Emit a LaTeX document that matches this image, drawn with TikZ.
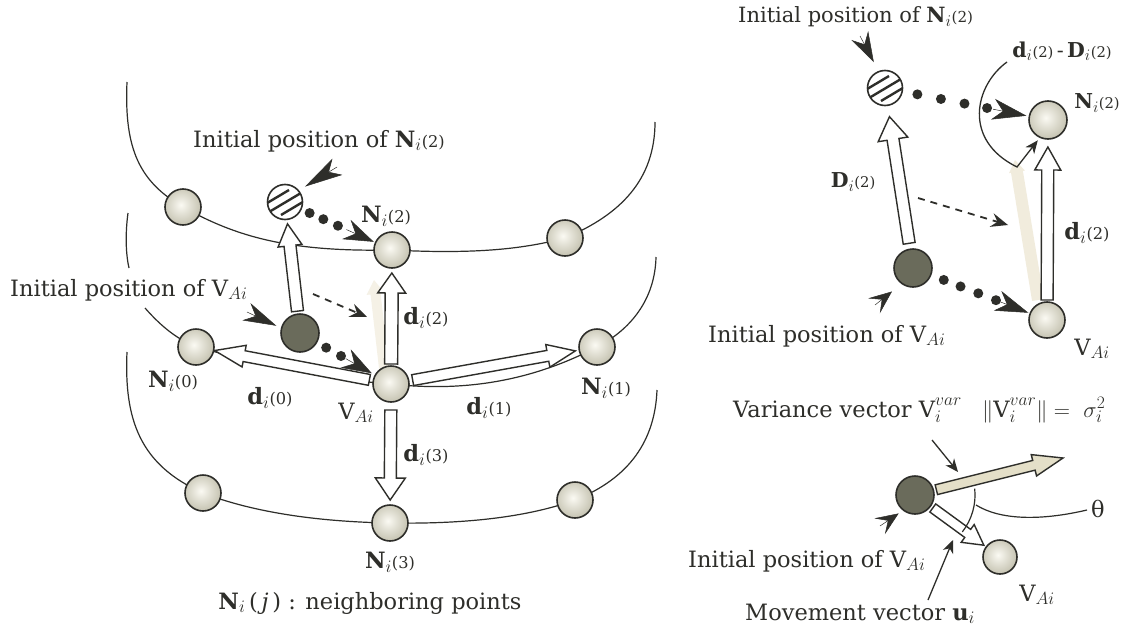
\RequirePackage{fix-cm}
\documentclass[tikz,border=0pt]{standalone}
\usepackage{fontspec}
\setmainfont{DejaVu Serif}
\renewcommand\defaultscriptratio{.78}
\usetikzlibrary{calc,arrows.meta}
\pgfdeclarelayer{bg}
\pgfsetlayers{bg,main}
\definecolor{ink}{HTML}{2E2E2A}
\definecolor{ballout}{HTML}{A9A68F}
\definecolor{ballin}{HTML}{FBFAF3}
\definecolor{darkball}{HTML}{6A6B5B}
\definecolor{beige}{HTML}{E4DFC8}
\definecolor{ghost}{HTML}{F1ECDD}
\definecolor{ghostl}{HTML}{F5F1E6}
\pgfdeclareradialshading{ballshade}{\pgfpoint{-3bp}{3bp}}{color(0bp)=(ballin); color(12bp)=(ballin!70!ballout); color(42bp)=(ballout); color(100bp)=(ballout)}
\makeatletter
\newcommand\sm[1]{{\fontsize{\dimexpr 0.72\dimexpr\f@size pt\relax\relax}{1pt}\selectfont #1}}
\makeatother
\newcommand\Nl[1]{$\mathbf{N}_{i}$\sm{(#1)}}
\newcommand\dl[1]{$\mathbf{d}_{i}$\sm{(#1)}}
\newcommand\Dl[1]{$\mathbf{D}_{i}$\sm{(#1)}}
\newcommand\VA{$\mathrm{V}_{Ai}$}
% hollow arrow: [style]{start}{end}{shaft half width}{head half width}{head length}
\newcommand\harrow[6][]{\draw[#1] ($(#2)!#4!90:(#3)$) -- ($(#3)!#6!(#2)!#4!90:(#3)$) -- ($(#3)!#6!(#2)!#5!90:(#3)$) -- (#3) -- ($(#3)!#6!(#2)!#5!-90:(#3)$) -- ($(#3)!#6!(#2)!#4!-90:(#3)$) -- ($(#2)!#4!-90:(#3)$) -- cycle;}
\tikzset{
  ball/.style={circle, draw=ink, line width=1.6pt, minimum size=36pt, inner sep=0pt, shade, shading=ballshade},
  darkb/.style={circle, draw=ink, line width=1.6pt, fill=darkball, minimum size=38pt, inner sep=0pt},
  hatchb/.style={circle, draw=ink, line width=1.6pt, fill=white, minimum size=35pt, inner sep=0pt,
    path picture={\foreach \o in {-17,0,17}{\draw[ink, line width=2.4pt] ($(path picture bounding box.center)+(\o-21,13)$) -- ++(42,-25);}}},
  hollow/.style={draw=ink, line width=1.4pt, fill=white, line join=miter},
  beigearr/.style={draw=ink, line width=1.4pt, fill=beige, line join=miter},
  ghostarr/.style={draw=none, fill=#1},
  curve/.style={draw=ink, line width=1.2pt},
  headonly/.style={-{Stealth[length=#1,width=21pt,inset=10pt]}, draw=ink, line width=0.5pt},
  pointer/.style={-{Stealth[length=#1,width=19pt,inset=10pt]}, draw=ink, line width=0.5pt},
  thinarr/.style={-{Stealth[length=13pt,width=11pt,inset=4pt]}, draw=ink, line width=1.3pt},
  dasharr/.style={draw=ink, line width=1.8pt, dash pattern=on 7pt off 6pt, -{Stealth[length=17pt,width=14pt,inset=6pt]}},
  dotc/.style={fill=ink},
  lbl/.style={text=ink, inner sep=0pt, font=\fontsize{22.5}{26}\selectfont},
  slbl/.style={text=ink, inner sep=0pt, font=\fontsize{20.5}{23}\selectfont},
  tlbl/.style={text=ink, inner sep=0pt, font=\fontsize{21}{24}\selectfont},
}
\begin{document}
\begin{tikzpicture}[x=1pt, y=-1pt]
\useasboundingbox (0,0) rectangle (1142,629);
% ---------------- nodes (left) ----------------
\node[ball]   (tl)  at (183,207) {};
\node[hatchb] (h1)  at (285,202) {};
\node[ball]   (n2)  at (392,250) {};
\node[ball]   (tr)  at (565,238) {};
\node[darkb]  (d1)  at (300,333) {};
\node[ball]   (vai) at (391,384) {};
\node[ball]   (n0)  at (196,347) {};
\node[ball]   (n1)  at (597,347) {};
\node[ball]   (bl)  at (203,493) {};
\node[ball]   (n3)  at (390,523) {};
\node[ball]   (br)  at (575,500) {};
% ---------------- nodes (right top) ----------------
\node[hatchb] (h2)  at (885,88) {};
\node[ball, minimum size=38pt] (m2) at (1048,120) {};
\node[darkb]  (d2)  at (913,268) {};
\node[ball]   (va2) at (1047,320) {};
% ---------------- nodes (right bottom) ----------------
\node[darkb]  (d3)  at (915,495) {};
\node[ball, minimum size=34pt] (va3) at (1000,557) {};
% ---------------- background: curves and ghosts ----------------
\begin{pgfonlayer}{bg}
\fill[white] (0,0) rectangle (1142,629);
\draw[curve] (127,82) .. controls (124,150) and (140,182) .. (tl.center)
  .. controls (238,238) and (292,252) .. (n2.center)
  .. controls (470,254) and (520,250) .. (tr.center)
  .. controls (620,215) and (655,180) .. (655,122);
\draw[curve] (128,213) .. controls (125,235) and (126,255) .. (129,268);
\draw[curve] (145,308) .. controls (160,325) and (175,338) .. (n0.center)
  .. controls (262,364) and (330,380) .. (vai.center)
  .. controls (462,392) and (530,382) .. (n1.center)
  .. controls (630,330) and (655,300) .. (656,257);
\draw[curve] (127,352) .. controls (124,420) and (140,465) .. (bl.center)
  .. controls (260,515) and (330,522) .. (n3.center)
  .. controls (450,524) and (520,520) .. (br.center)
  .. controls (630,478) and (655,440) .. (657,390);
\coordinate (g1s) at (384,368); \coordinate (g1e) at (374,280);
\harrow[ghostarr=ghostl]{g1s}{g1e}{5pt}{9pt}{14pt}
\coordinate (g2s) at (1038,300); \coordinate (g2e) at (1015,160);
\harrow[ghostarr=ghost]{g2s}{g2e}{6pt}{8pt}{12pt}
\end{pgfonlayer}
% ---------------- hollow arrows (left) ----------------
\coordinate (upS) at ($(d1)!22pt!(h1)$);  \coordinate (upE) at ($(h1)!22pt!(d1)$);
\harrow[hollow]{upS}{upE}{6pt}{12pt}{22pt}
\coordinate (a2S) at ($(vai)!20pt!(n2)$); \coordinate (a2E) at ($(n2)!23pt!(vai)$);
\harrow[hollow]{a2S}{a2E}{6.5pt}{14pt}{20pt}
\coordinate (a0S) at ($(vai)!22pt!(n0)$); \coordinate (a0E) at ($(n0)!19pt!(vai)$);
\harrow[hollow]{a0S}{a0E}{5.5pt}{11pt}{30pt}
\coordinate (a1S) at ($(vai)!22pt!(n1)$); \coordinate (a1E) at ($(n1)!22pt!(vai)$);
\harrow[hollow]{a1S}{a1E}{5.5pt}{11.5pt}{28pt}
\coordinate (a3S) at ($(vai)!26pt!(n3)$); \coordinate (a3E) at ($(n3)!23pt!(vai)$);
\harrow[hollow]{a3S}{a3E}{6pt}{15pt}{22pt}
% ---------------- hollow arrows (right) ----------------
\coordinate (DS) at ($(d2)!25pt!(h2)$); \coordinate (DE) at ($(h2)!29pt!(d2)$);
\harrow[hollow]{DS}{DE}{6pt}{15pt}{23pt}
\coordinate (rS) at ($(va2)!20pt!(m2)$); \coordinate (rE) at ($(m2)!27pt!(va2)$);
\harrow[hollow]{rS}{rE}{6pt}{13pt}{23pt}
\coordinate (vtip) at (1063,458);
\coordinate (vS) at ($(d3)!22pt!(vtip)$);
\harrow[beigearr]{vS}{vtip}{5pt}{11pt}{30pt}
\coordinate (uS) at ($(d3)!22pt!(va3)$); \coordinate (uE) at ($(va3)!20pt!(d3)$);
\harrow[hollow]{uS}{uE}{5pt}{11pt}{20pt}
% ---------------- dotted movement arrows ----------------
\foreach \t in {27,42,58}{\fill[dotc] ($(h1)!\t pt!(n2)$) circle[radius=5pt];}
\draw[headonly=30pt] ($(n2)!50pt!(h1)$) -- ($(n2)!20pt!(h1)$);
\foreach \t in {30,47}{\fill[dotc] ($(d1)!\t pt!(vai)$) circle[radius=5pt];}
\draw[headonly=30pt] ($(vai)!52pt!(d1)$) -- ($(vai)!22pt!(d1)$);
\foreach \t in {33,57,81,104}{\fill[dotc] ($(h2)!\t pt!(m2)$) circle[radius=5pt];}
\draw[headonly=34pt] ($(m2)!56pt!(h2)$) -- ($(m2)!22pt!(h2)$);
\foreach \t in {33,51,70,89}{\fill[dotc] ($(d2)!\t pt!(va2)$) circle[radius=5pt];}
\draw[headonly=33pt] ($(va2)!53pt!(d2)$) -- ($(va2)!20pt!(d2)$);
% ---------------- dashed arrows ----------------
\coordinate (ds1) at (313,294); \coordinate (de1) at (367,317);
\draw[dasharr] (ds1) -- (de1);
\coordinate (ds2) at (918,198); \coordinate (de2) at (1008,225);
\draw[dasharr] (ds2) -- (de2);
% ---------------- pointers ----------------
\coordinate (q1) at (337,167); \draw[pointer=38pt, shorten >=7pt] (q1) -- (h1.40);
\coordinate (q2) at (247,312); \draw[pointer=33pt, shorten >=5pt] (q2) -- (d1.165);
\coordinate (q3) at (860,36);  \draw[pointer=30pt, shorten >=10pt] (q3) -- (h2.111);
\coordinate (q4) at (875,305); \draw[pointer=23pt, shorten >=12pt] (q4) -- (d2.234);
\coordinate (q5) at (880,526); \draw[pointer=23pt, shorten >=5pt] (q5) -- (d3.232);
% ---------------- thin arrows ----------------
\coordinate (c1) at (1007,62); \coordinate (c2) at (1017,167);
\draw[thinarr, shorten >=3pt] (c1) .. controls (975,85) and (962,140) .. (c2) -- (m2.245);
\coordinate (vp1) at (932,440); \coordinate (vp2) at (958,472);
\draw[thinarr] (vp1) -- (vp2);
\coordinate (mp1) at (928,600); \coordinate (mp2) at (953,540);
\draw[thinarr] (mp1) -- (mp2);
% angle arc and theta leader
\draw[curve] (974.7,488.7) .. controls (976.3,504.2) and (971.9,519.6) .. (962.3,531.9);
\coordinate (th1) at (976,505); \coordinate (th2) at (1087,510);
\draw[curve] (th1) .. controls (1000,520) and (1040,521) .. (th2);
% ---------------- labels (left) ----------------
\node[lbl, anchor=base west] (t1) at (193,147) {Initial position of \Nl{2}};
\node[lbl] (t2) at (386,216) {\Nl{2}};
\node[lbl, anchor=base west] (t3) at (10,296) {Initial position of \VA};
\node[lbl] (t4) at (426,318) {\dl{2}};
\node[lbl] (t5) at (173,381) {\Nl{0}};
\node[lbl] (t6) at (270,398) {\dl{0}};
\node[lbl] (t7) at (356,413) {\VA};
\node[lbl] (t8) at (489,408) {\dl{1}};
\node[lbl] (t9) at (606,388) {\Nl{1}};
\node[lbl] (t10) at (426,455) {\dl{3}};
\node[lbl] (t11) at (390,562) {\Nl{3}};
\node[lbl, anchor=base] (t12) at (370,609) {$\mathbf{N}_{i}$\,(\,\textit{j}\,) : neighboring points};
% ---------------- labels (right) ----------------
\node[tlbl, anchor=base west] (r1) at (738,23) {Initial position of \Nl{2}};
\node[slbl] (r2) at (1062,51) {\dl{2}\,-\,\Dl{2}};
\node[slbl] (r3) at (1097,103) {\Nl{2}};
\node[slbl] (r4) at (853,182) {\Dl{2}};
\node[lbl] (r5) at (1087,233) {\dl{2}};
\node[lbl, anchor=base west] (r6) at (708,342) {Initial position of \VA};
\node[lbl] (r7) at (1092,349) {\VA};
\node[lbl, anchor=base west] (r8) at (733,417) {Variance vector $\mathrm{V}_i^{var}$};
\node[lbl, anchor=base west] (r9) at (982,417) {$\|\mathrm{V}_i^{var}\| =\ \sigma_i^2$};
\node[lbl] (r10) at (1098,509) {θ};
\node[lbl, anchor=base west] (r11) at (688,567) {Initial position of \VA};
\node[lbl] (r12) at (1037,595) {\VA};
\node[lbl, anchor=base west] (r13) at (745,620) {Movement vector $\mathbf{u}_i$};
\end{tikzpicture}
\end{document}
